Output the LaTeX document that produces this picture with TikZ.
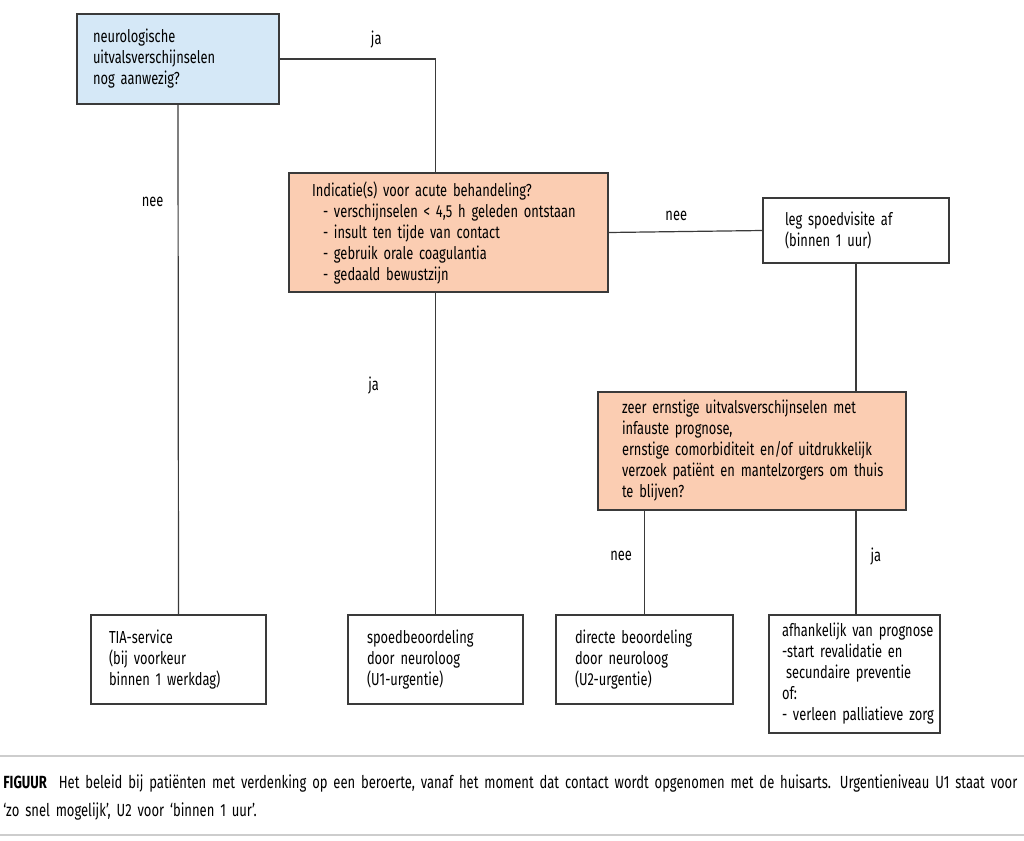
\documentclass[tikz,border=0pt]{standalone}
\usepackage{fontspec}
\setmainfont{Fira Sans}[FakeStretch=0.74,WordSpace=0.75]
\usepackage{tikz}
\usetikzlibrary{calc}
\definecolor{vraagblauw}{RGB}{213,232,247}
\definecolor{vraagoranje}{RGB}{251,205,178}
\definecolor{lijngrijs}{RGB}{58,58,58}
\definecolor{kadergrijs}{RGB}{205,205,205}
\newcommand*\inspring{\hspace*{5.5pt}}
\hyphenpenalty=10000
\tikzset{
  box/.style={draw=lijngrijs,line width=0.6pt,rectangle,align=left,font=\fontsize{8.7}{10.5}\selectfont},
  lbl/.style={inner sep=1pt,font=\fontsize{8.7}{10.5}\selectfont},
  lijn/.style={draw=lijngrijs,line width=0.6pt}
}

\begin{document}
\begin{tikzpicture}[x=0.5pt,y=-0.5pt]
			\useasboundingbox(0,0)rectangle(1024,841);
			% vragen
			\node[box,fill=vraagblauw,inner xsep=8pt,text width=85pt,minimum height=45pt](vraag)at(178,59){neurologische\\uitvalsverschijnselen\\nog aanwezig?};
			\node[box,fill=vraagoranje,inner xsep=11.5pt,text width=136.5pt,minimum height=59.5pt](acuut)at(448.5,232.5){Indicatie(s) voor acute behandeling?\\\inspring- verschijnselen < 4,5 h geleden ontstaan\\\inspring- insult ten tijde van contact\\\inspring- gebruik orale coagulantia\\\inspring- gedaald bewustzijn};
			\node[box,inner xsep=11pt,text width=71pt,minimum height=32.5pt](visite)at(856,230.5){leg spoedvisite af\\(binnen 1 uur)};
			\node[box,fill=vraagoranje,inner xsep=12pt,text width=130pt,minimum height=59pt](ernstig)at(752,451){\mbox{zeer ernstige uitvalsverschijnselen met}\\infauste prognose,\\\mbox{ernstige comorbiditeit en/of uitdrukkelijk}\\\mbox{verzoek patiënt en mantelzorgers om thuis}\\te blijven?};
			% uitkomsten
			\node[box,inner xsep=9pt,text width=69.5pt,minimum height=44.5pt](tia)at(178.5,659.5){TIA-service\\(bij voorkeur\\binnen 1 werkdag)};
			\node[box,inner xsep=9.5pt,text width=68.5pt,minimum height=44.5pt](spoed)at(435.5,659.5){spoedbeoordeling\\door neuroloog\\(U1-urgentie)};
			\node[box,inner xsep=9.5pt,text width=69.5pt,minimum height=44.5pt](direct)at(644.5,659.5){directe beoordeling\\door neuroloog\\(U2-urgentie)};
			\node[box,inner xsep=6.5pt,text width=72.5pt,minimum height=59pt](afh)at(854.5,674){\mbox{afhankelijk van prognose}\\-start revalidatie en\\\hspace*{2pt}secundaire preventie\\of:\\\mbox{- verleen palliatieve zorg}};
			% verbindingen
			\draw[lijn](vraag.east)-|node[lbl,above=4pt,pos=0.31]{ja}(acuut.north-|spoed.north);
			\draw[lijn](vraag.south)--node[lbl,left=6pt,pos=0.19]{nee}(tia.north);
			\draw[lijn](acuut.east)--node[lbl,above=4pt,pos=0.44]{nee}(visite.west);
			\draw[lijn](acuut.south-|spoed.north)--node[lbl,left=27pt,pos=0.29]{ja}(spoed.north);
			\draw[lijn](visite.south)--(ernstig.north-|visite.south);
			\draw[lijn](ernstig.south-|direct.north)--node[lbl,left=5pt,pos=0.44]{nee}(direct.north);
			\draw[lijn](ernstig.south-|visite.south)--node[lbl,right=6pt,pos=0.44]{ja}(afh.north-|visite.south);
			% onderschrift
			\draw[kadergrijs,line width=1pt](0,756)--(1024,756);
			\draw[kadergrijs,line width=1pt](0,835)--(1024,835);
			\node[anchor=north west,inner sep=0pt,align=left,text width=508pt,font=\fontsize{8.8}{14}\selectfont](onderschrift)at(3,774){\mbox{\textbf{FIGUUR}\hspace{3pt} Het beleid bij patiënten met verdenking op een beroerte, vanaf het moment dat contact wordt opgenomen met de huisarts. Urgentieniveau U1 staat voor}\\‘zo snel mogelijk’, U2 voor ‘binnen 1 uur’.};
		\end{tikzpicture}
\end{document}
